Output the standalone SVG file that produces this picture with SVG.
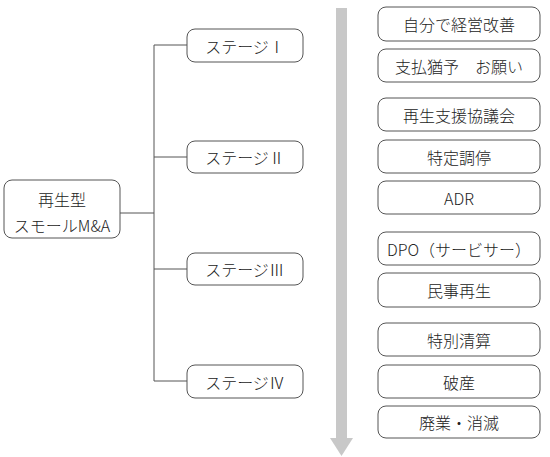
<svg xmlns="http://www.w3.org/2000/svg" width="550" height="457" viewBox="0 0 550 457">
<style>
.box{fill:#fff;stroke:#555;stroke-width:1}
.t{font-family:"Noto Sans CJK JP","Noto Sans",sans-serif;font-size:16px;font-weight:300;fill:#222;text-anchor:middle;dominant-baseline:central}
.ln{stroke:#555;stroke-width:1;fill:none}
</style>
<rect width="550" height="457" fill="#fff"/>
<g id="arrow">
<rect x="336" y="8" width="11" height="431" fill="#c8c8c8"/>
<polygon points="330,438 353,438 341.5,456" fill="#c8c8c8"/>
</g>
<g id="connectors">
<path class="ln" d="M120,213 H154 M154,45 V381 M154,45 H187 M154,157 H187 M154,269 H187 M154,381 H187"/>
</g>
<g id="main"><rect class="box" x="4" y="180" width="116" height="58" rx="8"/><text class="t" x="62" y="199">再生型</text><text class="t" x="62" y="225">スモールM&amp;A</text></g>
<g id="stage1"><rect class="box" x="187" y="29" width="116" height="33" rx="8"/><text class="t" x="245" y="45.5">ステージⅠ</text></g>
<g id="stage2"><rect class="box" x="187" y="141" width="116" height="32" rx="8"/><text class="t" x="245" y="157">ステージⅡ</text></g>
<g id="stage3"><rect class="box" x="187" y="253" width="116" height="32" rx="8"/><text class="t" x="245" y="269">ステージⅢ</text></g>
<g id="stage4"><rect class="box" x="187" y="365" width="116" height="33" rx="8"/><text class="t" x="245" y="381.5">ステージⅣ</text></g>
<g id="r1"><rect class="box" x="378" y="7" width="162" height="34" rx="8"/><text class="t" x="459" y="24">自分で経営改善</text></g>
<g id="r2"><rect class="box" x="378" y="49" width="162" height="33" rx="8"/><text class="t" x="459" y="65.5">支払猶予　お願い</text></g>
<g id="r3"><rect class="box" x="378" y="98" width="162" height="33" rx="8"/><text class="t" x="459" y="114.5">再生支援協議会</text></g>
<g id="r4"><rect class="box" x="378" y="140" width="162" height="33" rx="8"/><text class="t" x="459" y="156.5">特定調停</text></g>
<g id="r5"><rect class="box" x="378" y="181" width="162" height="33" rx="8"/><text class="t" x="459" y="197.5">ADR</text></g>
<g id="r6"><rect class="box" x="378" y="232" width="162" height="33" rx="8"/><text class="t" x="459" y="248.5">DPO（サービサー）</text></g>
<g id="r7"><rect class="box" x="378" y="273" width="162" height="34" rx="8"/><text class="t" x="459" y="290">民事再生</text></g>
<g id="r8"><rect class="box" x="378" y="323" width="162" height="33" rx="8"/><text class="t" x="459" y="339.5">特別清算</text></g>
<g id="r9"><rect class="box" x="378" y="365" width="162" height="33" rx="8"/><text class="t" x="459" y="381.5">破産</text></g>
<g id="r10"><rect class="box" x="378" y="406" width="162" height="32" rx="8"/><text class="t" x="459" y="422">廃業・消滅</text></g>
</svg>
